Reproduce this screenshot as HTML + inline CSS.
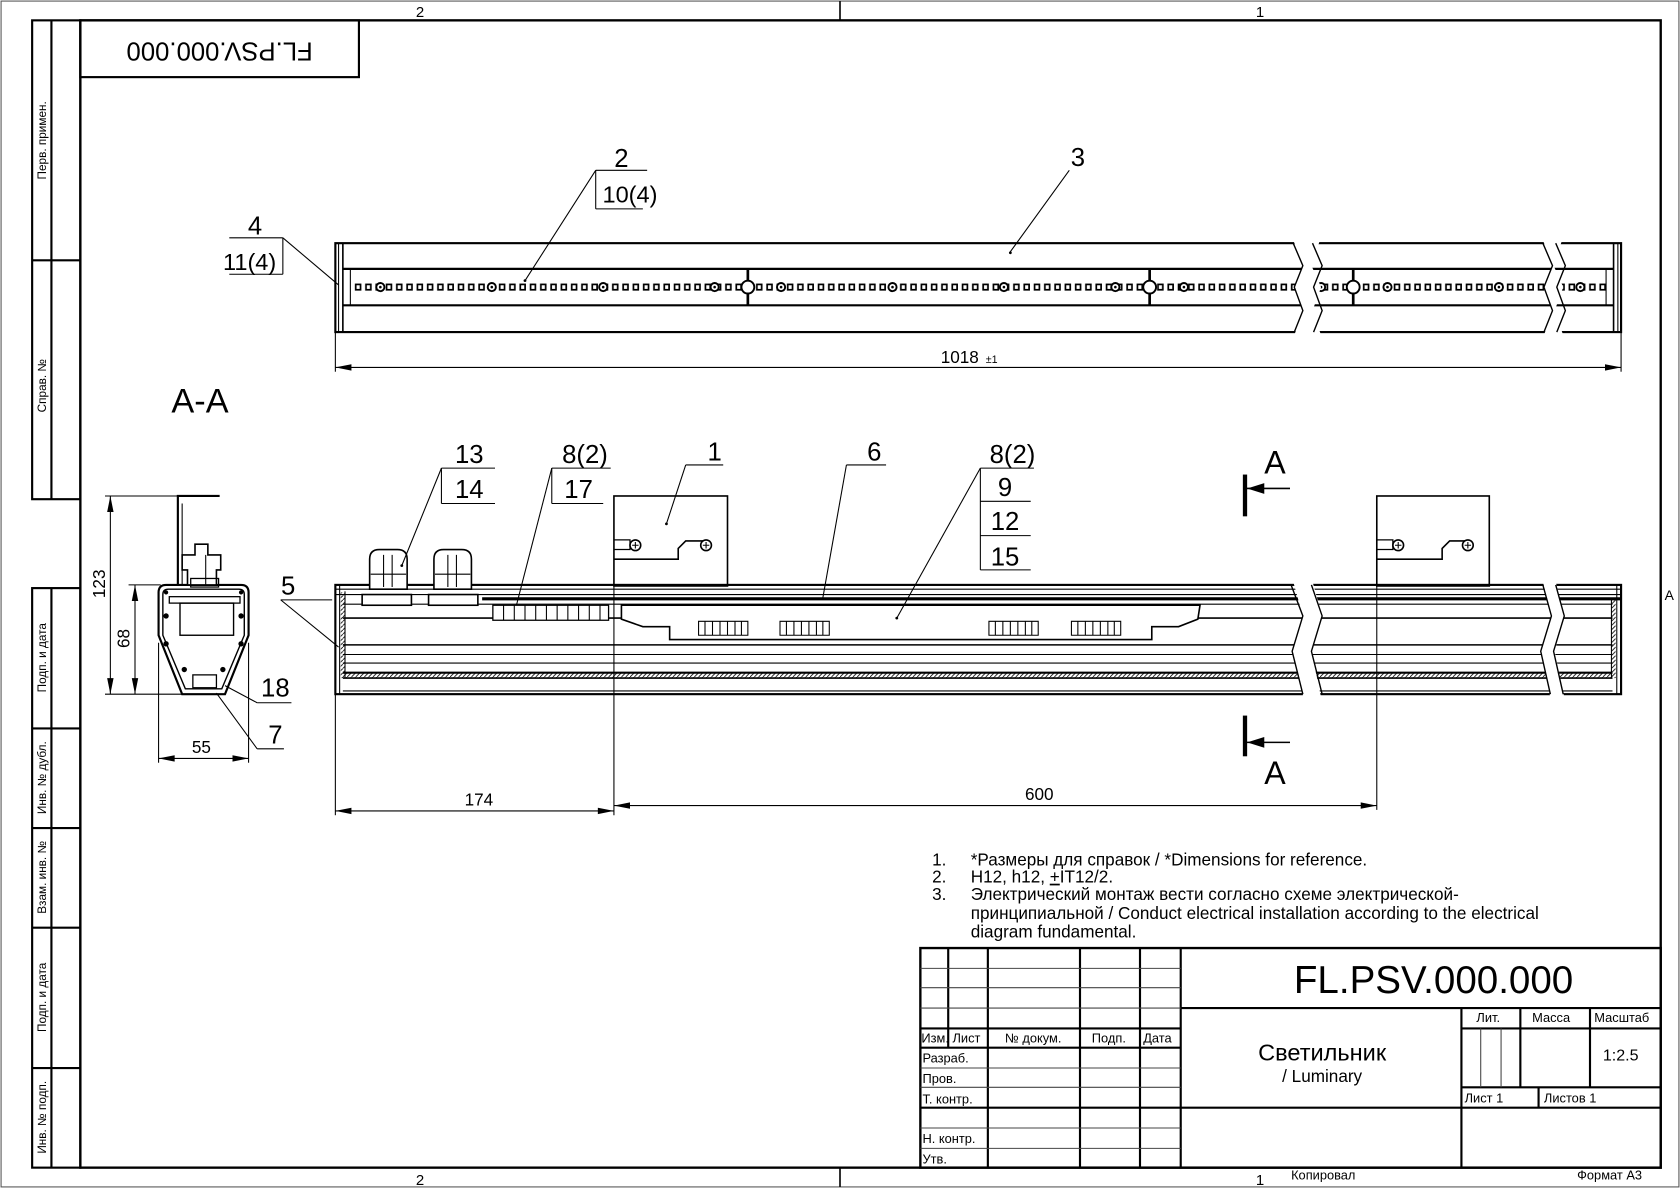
<!DOCTYPE html>
<html><head><meta charset="utf-8"><style>
html,body{margin:0;padding:0;background:#fff}
svg{display:block}
text{font-family:"Liberation Sans Narrow","Liberation Sans","DejaVu Sans",sans-serif;fill:#000}
</style></head><body>
<svg width="1680" height="1188" viewBox="0 0 1568 1109" preserveAspectRatio="none" xmlns="http://www.w3.org/2000/svg">
<defs>
<pattern id="holes" x="330" y="264" width="9.6" height="8" patternUnits="userSpaceOnUse">
<rect x="2" y="1.5" width="4.5" height="5" fill="none" stroke="#000" stroke-width="1.6"/>
</pattern>
<pattern id="hatch" width="4" height="4" patternUnits="userSpaceOnUse">
<path d="M0 4L4 0" stroke="#000" stroke-width="0.8"/>
</pattern>
</defs>
<rect width="1568" height="1109" fill="#fff"/>
<rect x="1" y="1" width="1566" height="1107" fill="none" stroke="#555" stroke-width="1"/>
<line x1="784" y1="1" x2="784" y2="19" stroke="#000" stroke-width="1.5"/>
<line x1="784" y1="1090" x2="784" y2="1108" stroke="#000" stroke-width="1.5"/>
<text x="392" y="16" font-size="14" text-anchor="middle">2</text>
<text x="1176" y="16" font-size="14" text-anchor="middle">1</text>
<text x="392" y="1106" font-size="14" text-anchor="middle">2</text>
<text x="1176" y="1106" font-size="14" text-anchor="middle">1</text>
<text x="1558" y="560" font-size="13" text-anchor="middle">A</text>
<text x="1205" y="1101" font-size="12">Копировал</text>
<text x="1472" y="1101" font-size="12">Формат А3</text>
<rect x="75" y="19" width="1475" height="1071" fill="none" stroke="#000" stroke-width="2.2"/>
<g stroke="#000" stroke-width="2" fill="none">
<rect x="30" y="19" width="45" height="447"/>
<line x1="48" y1="19" x2="48" y2="466"/>
<line x1="30" y1="243" x2="75" y2="243"/>
<rect x="30" y="549" width="45" height="541"/>
<line x1="48" y1="549" x2="48" y2="1090"/>
<line x1="30" y1="680" x2="75" y2="680"/>
<line x1="30" y1="773" x2="75" y2="773"/>
<line x1="30" y1="866" x2="75" y2="866"/>
<line x1="30" y1="997" x2="75" y2="997"/>
</g>
<g font-size="11">
<text transform="translate(43,131) rotate(-90)" text-anchor="middle">Перв. примен.</text>
<text transform="translate(43,360) rotate(-90)" text-anchor="middle">Справ. №</text>
<text transform="translate(43,614) rotate(-90)" text-anchor="middle">Подп. и дата</text>
<text transform="translate(43,726) rotate(-90)" text-anchor="middle">Инв. № дубл.</text>
<text transform="translate(43,819) rotate(-90)" text-anchor="middle">Взам. инв. №</text>
<text transform="translate(43,931) rotate(-90)" text-anchor="middle">Подп. и дата</text>
<text transform="translate(43,1043) rotate(-90)" text-anchor="middle">Инв. № подп.</text>
</g>
<rect x="75" y="19" width="260" height="53" fill="none" stroke="#000" stroke-width="2"/>
<text transform="translate(205,46) rotate(180)" font-size="24" text-anchor="middle" dominant-baseline="middle" font-family="Liberation Sans">FL.PSV.000.000</text>

<!-- TOP VIEW -->
<g stroke="#000" fill="none">
<rect x="313" y="227" width="1200" height="83" stroke-width="2"/>
<line x1="316" y1="227" x2="316" y2="310" stroke-width="1"/>
<line x1="320" y1="227" x2="320" y2="310" stroke-width="1.5"/>
<line x1="1510" y1="227" x2="1510" y2="310" stroke-width="1"/>
<line x1="1506" y1="227" x2="1506" y2="310" stroke-width="1.5"/>
<line x1="320" y1="251" x2="1506" y2="251" stroke-width="2"/>
<line x1="320" y1="285" x2="1506" y2="285" stroke-width="2"/>
<line x1="327" y1="251" x2="327" y2="285" stroke-width="1"/>
<line x1="1499" y1="251" x2="1499" y2="285" stroke-width="1"/>
<line x1="698" y1="251" x2="698" y2="285" stroke-width="2.5"/>
<line x1="1073" y1="251" x2="1073" y2="285" stroke-width="2.5"/>
<line x1="1263" y1="251" x2="1263" y2="285" stroke-width="2.5"/>
</g>
<rect x="330" y="264" width="1170" height="8" fill="url(#holes)"/>
<g fill="#fff" stroke="#000" stroke-width="1.8">
<circle cx="355" cy="268" r="3.8"/><circle cx="459" cy="268" r="3.8"/><circle cx="563" cy="268" r="3.8"/><circle cx="667" cy="268" r="3.8"/>
<circle cx="729" cy="268" r="3.8"/><circle cx="833" cy="268" r="3.8"/><circle cx="937" cy="268" r="3.8"/><circle cx="1041" cy="268" r="3.8"/>
<circle cx="1105" cy="268" r="3.8"/><circle cx="1233" cy="268" r="3.8"/><circle cx="1295" cy="268" r="3.8"/><circle cx="1399" cy="268" r="3.8"/><circle cx="1475" cy="268" r="3.8"/>
<circle cx="698" cy="268" r="6"/><circle cx="1073" cy="268" r="6"/><circle cx="1263" cy="268" r="6"/>
</g>
<g fill="#000"><circle cx="355" cy="268" r="1.2"/><circle cx="459" cy="268" r="1.2"/><circle cx="563" cy="268" r="1.2"/><circle cx="667" cy="268" r="1.2"/><circle cx="729" cy="268" r="1.2"/><circle cx="833" cy="268" r="1.2"/><circle cx="937" cy="268" r="1.2"/><circle cx="1041" cy="268" r="1.2"/><circle cx="1105" cy="268" r="1.2"/><circle cx="1233" cy="268" r="1.2"/><circle cx="1295" cy="268" r="1.2"/><circle cx="1399" cy="268" r="1.2"/><circle cx="1475" cy="268" r="1.2"/></g>
<polygon points="1207,224 1216,248 1208,268 1216,290 1208,313 1233,313 1225,290 1233,268 1224,248 1232,224" fill="#fff"/>
<polyline points="1207,227 1216,248 1208,268 1216,290 1208,310" fill="none" stroke="#000" stroke-width="1.3"/>
<polyline points="1225,227 1234,248 1226,268 1234,290 1226,310" fill="none" stroke="#000" stroke-width="1.3"/>
<polygon points="1440,224 1449,248 1441,268 1449,290 1441,313 1459,313 1451,290 1459,268 1450,248 1458,224" fill="#fff"/>
<polyline points="1440,227 1449,248 1441,268 1449,290 1441,310" fill="none" stroke="#000" stroke-width="1.3"/>
<polyline points="1452,227 1461,248 1453,268 1461,290 1453,310" fill="none" stroke="#000" stroke-width="1.3"/>
<g stroke="#000" stroke-width="1" fill="none">
<line x1="313" y1="310" x2="313" y2="347"/><line x1="1513" y1="310" x2="1513" y2="347"/>
<line x1="313" y1="343" x2="1513" y2="343"/>
</g>
<polygon points="313,343 328,340 328,346" fill="#000"/><polygon points="1513,343 1498,340 1498,346" fill="#000"/>
<text x="878" y="339" font-size="16">1018</text><text x="920" y="339" font-size="10">±1</text>
<g stroke="#000" stroke-width="1" fill="none">
<line x1="556" y1="159" x2="604" y2="159"/><line x1="556" y1="159" x2="556" y2="195"/><line x1="556" y1="195" x2="600" y2="195"/>
<line x1="556" y1="159" x2="490" y2="262"/>
<line x1="998" y1="159" x2="943" y2="235"/>
<line x1="214" y1="222" x2="264" y2="222"/><line x1="264" y1="222" x2="264" y2="256"/><line x1="214" y1="256" x2="264" y2="256"/>
<line x1="264" y1="222" x2="316" y2="266"/>
</g>
<circle cx="490" cy="262" r="1.3"/><circle cx="943" cy="236" r="1.3"/>
<text x="580" y="156" font-size="24" text-anchor="middle">2</text>
<text x="588" y="189" font-size="22" text-anchor="middle">10(4)</text>
<text x="1006" y="155" font-size="24" text-anchor="middle">3</text>
<text x="238" y="219" font-size="24" text-anchor="middle">4</text>
<text x="233" y="252" font-size="22" text-anchor="middle">11(4)</text>

<text x="160" y="385" font-size="32" font-family="Liberation Sans">A-A</text>

<!-- SIDE VIEW -->
<g stroke="#000" fill="none">
<rect x="573" y="463" width="106" height="84" stroke-width="1.5"/>
<rect x="1285" y="463" width="105" height="84" stroke-width="1.5"/>
<polyline points="573,522 633,522 633,512 640,505 660,505" stroke-width="1.5"/>
<polyline points="1285,522 1346,522 1346,512 1353,505 1373,505" stroke-width="1.5"/>
<polyline points="573,504 588,504 588,513 573,513" stroke-width="1.2"/>
<polyline points="1285,504 1300,504 1300,513 1285,513" stroke-width="1.2"/>
</g>
<g fill="#fff" stroke="#000" stroke-width="1.5">
<circle cx="593" cy="509" r="5"/><circle cx="659" cy="509" r="5"/><circle cx="1305" cy="509" r="5"/><circle cx="1370" cy="509" r="5"/>
</g>
<g stroke="#000" stroke-width="1"><path d="M590 509h6M593 506v6M656 509h6M659 506v6M1302 509h6M1305 506v6M1367 509h6M1370 506v6"/></g>
<g stroke="#000" fill="none">
<rect x="313" y="546" width="1200" height="102" stroke-width="2"/>
<line x1="313" y1="550" x2="1513" y2="550" stroke-width="1"/>
<line x1="313" y1="555" x2="1513" y2="555" stroke-width="1"/>
<line x1="450" y1="559" x2="1513" y2="559" stroke-width="3"/>
<line x1="320" y1="564" x2="1505" y2="564" stroke-width="1"/>
<line x1="320" y1="577" x2="1505" y2="577" stroke-width="1.5"/>
<line x1="320" y1="602" x2="1505" y2="602" stroke-width="1.5"/>
<line x1="320" y1="611" x2="1505" y2="611" stroke-width="1"/>
<line x1="320" y1="619" x2="1505" y2="619" stroke-width="1"/>
<line x1="320" y1="628" x2="1505" y2="628" stroke-width="2"/>
<line x1="320" y1="633" x2="1505" y2="633" stroke-width="1.5"/>
<line x1="320" y1="645" x2="1505" y2="645" stroke-width="1"/>
<line x1="317" y1="546" x2="317" y2="648" stroke-width="1"/>
<line x1="322" y1="552" x2="322" y2="633" stroke-width="1"/>
<line x1="1509" y1="546" x2="1509" y2="648" stroke-width="1"/>
<line x1="1504" y1="560" x2="1504" y2="633" stroke-width="1"/>
</g>
<rect x="318" y="553" width="4" height="80" fill="url(#hatch)"/>
<rect x="322" y="628" width="1183" height="5" fill="url(#hatch)"/>
<rect x="1504" y="560" width="4" height="73" fill="url(#hatch)"/>
<!-- glands -->
<g stroke="#000" stroke-width="1.5" fill="#fff">
<path d="M345 550v-28q0-9 9-9h17q9 0 9 9v28z"/>
<path d="M405 550v-28q0-9 9-9h17q9 0 9 9v28z"/>
<rect x="338" y="555" width="46" height="10"/>
<rect x="400" y="555" width="46" height="10"/>
</g>
<g stroke="#000" stroke-width="1"><path d="M358 518v30M366 518v30M418 518v30M426 518v30M346 536h33M406 536h33"/></g>
<g stroke="#000" stroke-width="1.2" fill="#fff">
<rect x="460" y="565" width="108" height="14"/>
</g>
<g stroke="#000" stroke-width="1"><path d="M470 565v14M480 565v14M490 565v14M500 565v14M510 565v14M520 565v14M530 565v14M540 565v14M550 565v14M560 565v14"/></g>
<g stroke="#000" stroke-width="1.5" fill="#fff">
<polygon points="580,565 1120,565 1118,578 1100,585 1075,585 1075,597 625,597 625,585 600,585 580,578"/>
</g>
<g stroke="#000" stroke-width="1" fill="none">
<path d="M652 580h46v13h-46z M728 580h46v13h-46z M923 580h46v13h-46z M1000 580h46v13h-46z"/>
<path d="M658 580v13M665 580v13M672 580v13M679 580v13M686 580v13M692 580v13 M734 580v13M741 580v13M748 580v13M755 580v13M762 580v13M768 580v13 M929 580v13M936 580v13M943 580v13M950 580v13M957 580v13M963 580v13 M1006 580v13M1013 580v13M1020 580v13M1027 580v13M1034 580v13M1040 580v13"/>
</g>
<polygon points="1207,543 1216,575 1206,608 1216,648 1216,651 1233,651 1224,608 1234,575 1225,543" fill="#fff"/>
<polyline points="1205,546 1216,575 1206,608 1216,648" fill="none" stroke="#000" stroke-width="1.3"/>
<polyline points="1224,546 1234,575 1224,608 1234,648" fill="none" stroke="#000" stroke-width="1.3"/>
<polygon points="1440,543 1448,575 1438,608 1447,651 1460,651 1451,608 1460,575 1452,543" fill="#fff"/>
<polyline points="1440,546 1448,575 1438,608 1447,648" fill="none" stroke="#000" stroke-width="1.3"/>
<polyline points="1452,546 1460,575 1450,608 1459,648" fill="none" stroke="#000" stroke-width="1.3"/>
<line x1="1285" y1="546" x2="1285" y2="756" stroke="#000" stroke-width="1"/>
<g stroke="#000" fill="none">
<line x1="1162" y1="443" x2="1162" y2="482" stroke-width="4"/>
<line x1="1162" y1="456" x2="1204" y2="456" stroke-width="1.5"/>
<line x1="1162" y1="668" x2="1162" y2="706" stroke-width="4"/>
<line x1="1162" y1="693" x2="1204" y2="693" stroke-width="1.5"/>
</g>
<polygon points="1164,456 1180,451 1180,461" fill="#000"/><polygon points="1164,693 1180,688 1180,698" fill="#000"/>
<text x="1190" y="442" font-size="30" text-anchor="middle" font-family="Liberation Sans">A</text>
<text x="1190" y="732" font-size="30" text-anchor="middle" font-family="Liberation Sans">A</text>
<g stroke="#000" stroke-width="1" fill="none">
<line x1="313" y1="648" x2="313" y2="761"/>
<line x1="573" y1="547" x2="573" y2="761"/>
<line x1="313" y1="757" x2="573" y2="757"/>
<line x1="573" y1="752" x2="1285" y2="752"/>
</g>
<polygon points="313,757 328,754 328,760" fill="#000"/><polygon points="573,757 558,754 558,760" fill="#000"/>
<polygon points="573,752 588,749 588,755" fill="#000"/><polygon points="1285,752 1270,749 1270,755" fill="#000"/>
<text x="447" y="752" font-size="16" text-anchor="middle">174</text>
<text x="970" y="747" font-size="16" text-anchor="middle">600</text>
<g stroke="#000" stroke-width="1" fill="none">
<line x1="412" y1="437" x2="462" y2="437"/><line x1="412" y1="437" x2="412" y2="470"/><line x1="412" y1="470" x2="462" y2="470"/>
<line x1="412" y1="437" x2="375" y2="528"/>
<line x1="515" y1="437" x2="570" y2="437"/><line x1="515" y1="437" x2="515" y2="470"/><line x1="515" y1="470" x2="563" y2="470"/>
<line x1="515" y1="437" x2="482" y2="565"/>
<line x1="640" y1="434" x2="675" y2="434"/><line x1="640" y1="434" x2="622" y2="489"/>
<line x1="790" y1="434" x2="827" y2="434"/><line x1="790" y1="434" x2="768" y2="558"/>
<line x1="915" y1="437" x2="965" y2="437"/><line x1="915" y1="437" x2="915" y2="532"/>
<line x1="915" y1="468" x2="962" y2="468"/><line x1="915" y1="500" x2="962" y2="500"/><line x1="915" y1="532" x2="962" y2="532"/>
<line x1="915" y1="437" x2="837" y2="577"/>
<line x1="262" y1="560" x2="310" y2="560"/><line x1="262" y1="560" x2="316" y2="604"/>
</g>
<circle cx="375" cy="528" r="1.3"/><circle cx="622" cy="489" r="1.3"/><circle cx="837" cy="577" r="1.3"/>
<g font-size="24" text-anchor="middle">
<text x="438" y="432">13</text><text x="438" y="465">14</text>
<text x="546" y="432">8(2)</text><text x="540" y="465">17</text>
<text x="667" y="430">1</text><text x="816" y="430">6</text>
<text x="945" y="432">8(2)</text><text x="938" y="463">9</text><text x="938" y="495">12</text><text x="938" y="528">15</text>
<text x="269" y="555">5</text>
</g>

<!-- SECTION A-A -->
<g stroke="#000" fill="none">
<path d="M148 553q0-7 7-7h70q7 0 7 7v40l-22 55h-40l-22-55z" stroke-width="2"/>
<path d="M152 555q0-5 5-5h66q5 0 5 5v38l-21 50h-34l-21-50z" stroke-width="1.3"/>
<path d="M175 546v-14h-5v-14h12v-10h12v10h12v14h-4v14z" stroke-width="1.5" fill="#fff"/>
<line x1="192" y1="518" x2="192" y2="546" stroke-width="1"/>
<polyline points="166,546 166,463 205,463" stroke-width="2"/>
<line x1="170" y1="470" x2="170" y2="546" stroke-width="1"/>
<rect x="158" y="557" width="66" height="6" stroke-width="1.2"/>
<rect x="168" y="563" width="50" height="30" stroke-width="1.3"/>
<rect x="180" y="630" width="22" height="12" stroke-width="1.2"/>
<rect x="178" y="540" width="26" height="8" stroke-width="1.2"/>
</g>
<g fill="#000"><circle cx="155" cy="601" r="2.5"/><circle cx="225" cy="601" r="2.5"/><circle cx="155" cy="575" r="2.5"/><circle cx="225" cy="575" r="2.5"/><circle cx="172" cy="625" r="2.5"/><circle cx="208" cy="625" r="2.5"/><circle cx="155" cy="553" r="2"/><circle cx="225" cy="553" r="2"/></g>
<g stroke="#000" stroke-width="1" fill="none">
<line x1="98" y1="463" x2="166" y2="463"/>
<line x1="120" y1="546" x2="150" y2="546"/>
<line x1="98" y1="648" x2="175" y2="648"/>
<line x1="103" y1="463" x2="103" y2="648"/>
<line x1="126" y1="546" x2="126" y2="648"/>
<line x1="148" y1="600" x2="148" y2="712"/>
<line x1="232" y1="600" x2="232" y2="712"/>
<line x1="148" y1="708" x2="232" y2="708"/>
<line x1="210" y1="640" x2="240" y2="656"/><line x1="240" y1="656" x2="272" y2="656"/>
<line x1="202" y1="647" x2="240" y2="699"/><line x1="240" y1="699" x2="265" y2="699"/>
</g>
<polygon points="103,463 100,478 106,478" fill="#000"/><polygon points="103,648 100,633 106,633" fill="#000"/>
<polygon points="126,546 123,561 129,561" fill="#000"/><polygon points="126,648 123,633 129,633" fill="#000"/>
<polygon points="148,708 163,705 163,711" fill="#000"/><polygon points="232,708 217,705 217,711" fill="#000"/>
<text transform="translate(98,545) rotate(-90)" font-size="16" text-anchor="middle">123</text>
<text transform="translate(121,596) rotate(-90)" font-size="16" text-anchor="middle">68</text>
<text x="188" y="703" font-size="16" text-anchor="middle">55</text>
<text x="257" y="650" font-size="24" text-anchor="middle">18</text>
<text x="257" y="694" font-size="24" text-anchor="middle">7</text>

<!-- NOTES -->
<g font-size="16">
<text x="870" y="808">1.</text><text x="906" y="808">*Размеры для справок / *Dimensions for reference.</text>
<text x="870" y="824">2.</text><text x="906" y="824">H12, h12, <tspan text-decoration="underline">+</tspan>IT12/2.</text>
<text x="870" y="840">3.</text><text x="906" y="840">Электрический монтаж вести согласно схеме электрической-</text>
<text x="906" y="858">принципиальной / Conduct electrical installation according to the electrical</text>
<text x="906" y="875">diagram fundamental.</text>
</g>

<!-- TITLE BLOCK -->
<g stroke="#000" fill="none">
<rect x="859" y="885" width="691" height="205" stroke-width="2.2"/>
<g stroke-width="2">
<line x1="885" y1="885" x2="885" y2="978"/>
<line x1="922" y1="885" x2="922" y2="1090"/>
<line x1="1008" y1="885" x2="1008" y2="1090"/>
<line x1="1064" y1="885" x2="1064" y2="1090"/>
<line x1="1102" y1="885" x2="1102" y2="1090"/>
<line x1="1102" y1="941" x2="1550" y2="941"/>
<line x1="1102" y1="1034" x2="1550" y2="1034"/>
<line x1="1364" y1="941" x2="1364" y2="1090"/>
<line x1="1419" y1="941" x2="1419" y2="1015"/>
<line x1="1484" y1="941" x2="1484" y2="1015"/>
<line x1="1364" y1="960" x2="1550" y2="960"/>
<line x1="1364" y1="1015" x2="1550" y2="1015"/>
<line x1="1436" y1="1015" x2="1436" y2="1034"/>
<line x1="859" y1="960" x2="1102" y2="960"/>
<line x1="859" y1="978" x2="1102" y2="978"/>
<line x1="859" y1="1034" x2="1102" y2="1034"/>
</g>
<g stroke-width="1" stroke="#444">
<line x1="859" y1="904" x2="1102" y2="904"/>
<line x1="859" y1="922" x2="1102" y2="922"/>
<line x1="859" y1="941" x2="1102" y2="941"/>
<line x1="859" y1="997" x2="1102" y2="997"/>
<line x1="859" y1="1015" x2="1102" y2="1015"/>
<line x1="859" y1="1053" x2="1102" y2="1053"/>
<line x1="859" y1="1072" x2="1102" y2="1072"/>
<line x1="1382" y1="960" x2="1382" y2="1015"/>
<line x1="1401" y1="960" x2="1401" y2="1015"/>
</g>
</g>
<text x="1338" y="927" font-size="36" text-anchor="middle" font-family="Liberation Sans">FL.PSV.000.000</text>
<g font-size="12">
<text x="860" y="973">Изм.</text><text x="889" y="973">Лист</text><text x="938" y="973">№ докум.</text><text x="1019" y="973">Подп.</text><text x="1067" y="973">Дата</text>
<text x="861" y="992">Разраб.</text><text x="861" y="1011">Пров.</text><text x="861" y="1030">Т. контр.</text><text x="861" y="1067">Н. контр.</text><text x="861" y="1086">Утв.</text>
<text x="1378" y="954">Лит.</text><text x="1430" y="954">Масса</text><text x="1488" y="954">Масштаб</text>
<text x="1367" y="1029">Лист 1</text><text x="1441" y="1029">Листов 1</text>
</g>
<text x="1496" y="990" font-size="15">1:2.5</text>
<text x="1234" y="990" font-size="22" text-anchor="middle">Светильник</text>
<text x="1234" y="1010" font-size="16" text-anchor="middle">/ Luminary</text>
</svg>
</body></html>
